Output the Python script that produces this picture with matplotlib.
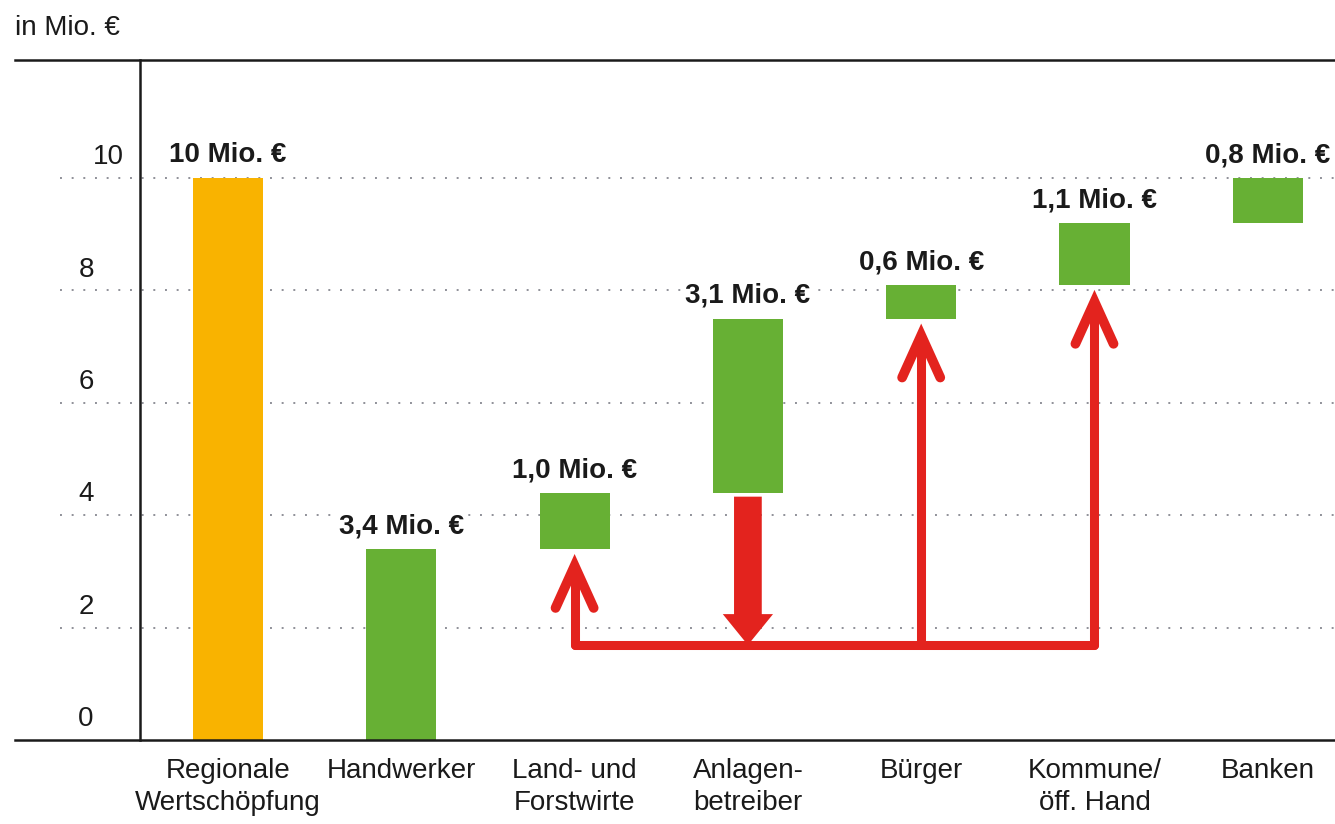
import matplotlib
matplotlib.use("Agg")
import matplotlib.pyplot as plt
from matplotlib.lines import Line2D
from matplotlib.transforms import blended_transform_factory
from matplotlib import font_manager

# ---- data -------------------------------------------------------------
categories = ["Regionale\nWertschöpfung", "Handwerker", "Land- und\nForstwirte",
              "Anlagen-\nbetreiber", "Bürger", "Kommune/\nöff. Hand", "Banken"]
values = [10.0, 3.4, 1.0, 3.1, 0.6, 1.1, 0.8]
value_labels = ["10 Mio. €", "3,4 Mio. €", "1,0 Mio. €", "3,1 Mio. €",
                "0,6 Mio. €", "1,1 Mio. €", "0,8 Mio. €"]
y_ticks = [0, 2, 4, 6, 8, 10]
unit_label = "in Mio. €"

# redistribution from the plant operators to other groups
flow_source = 3
flow_targets = [2, 4, 5]

# ---- style ------------------------------------------------------------
names = {f.name for f in font_manager.fontManager.ttflist}
FONT = "Liberation Sans Narrow" if "Liberation Sans Narrow" in names else "Liberation Sans"
plt.rcParams["font.family"] = [FONT, "DejaVu Sans"]

ORANGE = "#F9B300"
GREEN = "#67B034"
RED = "#E3231E"
INK = "#1a1a1a"
W, H = 1335, 824
FS = 20

fig = plt.figure(figsize=(W / 100, H / 100), dpi=100)
ax = fig.add_axes([140 / W, 84 / H, 1 - 140 / W, 680 / H])
ax.set_xlim(-0.508, 6.388)
ax.set_ylim(0, 12.1)
ax.axis("off")

def fx(px):
    return px / W

def fy(py):
    return 1 - py / H

# frame lines
for xs, ys in [((15, W), (60, 60)), ((15, W), (740, 740)), ((140, 140), (60, 740))]:
    fig.add_artist(Line2D([fx(xs[0]), fx(xs[1])], [fy(ys[0]), fy(ys[1])],
                          color=INK, lw=1.8, transform=fig.transFigure, zorder=5))

# dotted grid and y labels
bt = blended_transform_factory(fig.transFigure, ax.transData)
for t in y_ticks:
    if t > 0:
        fig.add_artist(Line2D([fx(60), 1.0], [t, t], transform=bt, color="#8f9098",
                              lw=1.4, ls=(0, (1, 5)), zorder=0))
    xpos = fx(86) if t < 10 else fx(108)
    fig.text(xpos, t + 0.37, str(t), transform=bt, ha="center", va="center",
             fontsize=FS, color=INK)

fig.text(fx(15), fy(28), unit_label, ha="left", va="center", fontsize=FS, color=INK)

# waterfall bars
bottoms = [0.0]
running = 0.0
for v in values[1:]:
    bottoms.append(running)
    running += v
bottoms = bottoms[:len(values)]
colors = [ORANGE] + [GREEN] * (len(values) - 1)
xs = list(range(len(values)))
ax.bar(xs, values, bottom=bottoms, width=0.405, color=colors, zorder=2)

for x, v, b, lab in zip(xs, values, bottoms, value_labels):
    ax.annotate(lab, (x, b + v), xytext=(0, 7), textcoords="offset points",
                ha="center", va="bottom", fontsize=FS, fontweight="bold", color=INK,
                bbox=dict(boxstyle="square,pad=0.05", fc="white", ec="none"), zorder=4)

# category labels
for x, c in zip(xs, categories):
    ax.annotate(c, (x, 0), xytext=(0, -13), textcoords="offset points",
                ha="center", va="top", fontsize=FS, color=INK, linespacing=1.3,
                annotation_clip=False)

# red flow arrows
flow_level = 1.69
src_bottom = bottoms[flow_source]
ax.arrow(flow_source, src_bottom - 0.07, 0, flow_level - (src_bottom - 0.07),
         width=0.16, head_width=0.29, head_length=0.55, length_includes_head=True,
         color=RED, lw=0, zorder=3)

tx = sorted(flow_targets)
ax.plot([tx[0], tx[-1]], [flow_level, flow_level], color=RED, lw=6.5,
        solid_capstyle="round", zorder=3)
for t in flow_targets:
    tip = bottoms[t] - 0.3
    ax.plot([t, t], [flow_level, tip - 0.05], color=RED, lw=6.5,
            solid_capstyle="round", solid_joinstyle="round", zorder=3)
    ax.plot([t - 0.11, t, t + 0.11], [tip - 0.75, tip, tip - 0.75], color=RED, lw=7,
            solid_capstyle="round", solid_joinstyle="miter", zorder=3)

fig.savefig("out.png", dpi=100)
